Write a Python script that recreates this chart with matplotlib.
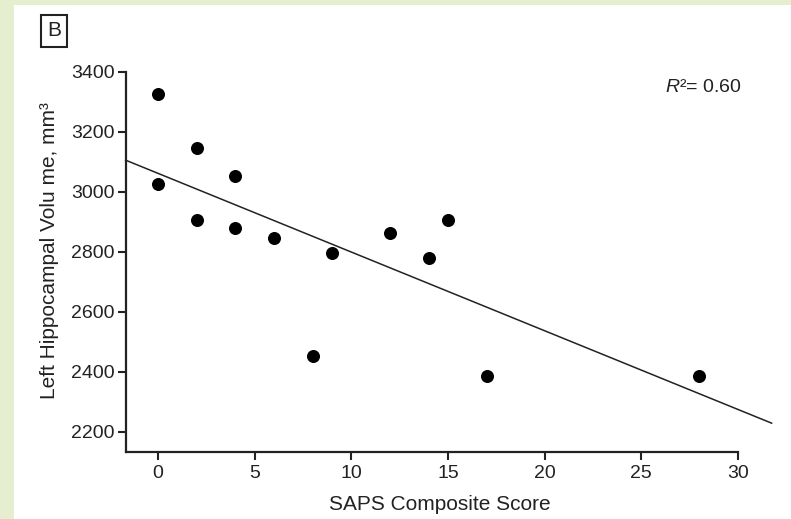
import matplotlib
matplotlib.use("Agg")
import matplotlib.pyplot as plt
from matplotlib.patches import Rectangle
import numpy as np

saps_score = [0, 0, 2, 2, 4, 4, 6, 8, 9, 12, 14, 15, 17, 28]
hippocampal_volume = [3327, 3025, 3147, 2906, 3053, 2878, 2847, 2453, 2795, 2861, 2779, 2906, 2386, 2386]
x_ticks = [0, 5, 10, 15, 20, 25, 30]
y_ticks = [2200, 2400, 2600, 2800, 3000, 3200, 3400]
fit_intercept = 3061
fit_slope = -26.24
fit_x_range = [-1.68, 31.74]

plt.rcParams['font.family'] = ['Liberation Sans', 'DejaVu Sans']
plt.rcParams['mathtext.fontset'] = 'custom'
plt.rcParams['mathtext.it'] = 'Liberation Sans:italic'
plt.rcParams['mathtext.rm'] = 'Liberation Sans'

fig = plt.figure(figsize=(7.91, 5.19), dpi=100)
fig.patch.set_facecolor('#e6eed0')
bg = Rectangle((14/791, 0), 1 - 14/791, 1 - 5/519, transform=fig.transFigure,
               facecolor='white', edgecolor='none', zorder=-10)
fig.patches.append(bg)

ax = fig.add_axes([125.6/791, 1 - 452/519, (738 - 125.6)/791, (452 - 71.7)/519])
ax.set_zorder(1)
ax.set_facecolor('none')
ax.set_xlim(-1.68, 30)
ax.set_ylim(2132, 3400)

ax.scatter(saps_score, hippocampal_volume, s=70, color='black', zorder=3, clip_on=False)
fx = np.array(fit_x_range)
ax.plot(fx, fit_intercept + fit_slope * fx, color='#222222', lw=1.1, clip_on=False)

ax.set_xticks(x_ticks)
ax.set_yticks(y_ticks)
for s in ['top', 'right']:
    ax.spines[s].set_visible(False)
for s in ['left', 'bottom']:
    ax.spines[s].set_linewidth(1.6)
    ax.spines[s].set_color('#222222')
ax.tick_params(direction='out', length=6, width=1.5, colors='#222222', labelsize=14, pad=3)
ax.tick_params(axis='y', pad=2)

ax.set_xlabel('SAPS Composite Score', fontsize=15, color='#222222')
ax.xaxis.set_label_coords((440 - 125.6) / (738 - 125.6), -(505 - 452) / (452 - 71.7))
ax.xaxis.label.set_va('center')
ax.set_ylabel('Left Hippocampal Volu me, mm³', fontsize=15, color='#222222')
ax.yaxis.set_label_coords(-(125.6 - 49) / (738 - 125.6), (452 - 251) / (452 - 71.7))
ax.yaxis.label.set_va('center')

ax.text(30.2, 3346, r'$R$²= 0.60', fontsize=14, ha='right', va='center', color='#222222')

fig.text(54/791, 1 - 31/519, 'B', fontsize=15, ha='center', va='center', color='#222222', zorder=5,
         bbox=dict(boxstyle='square,pad=0.3', facecolor='white', edgecolor='#222222', lw=1.5))

fig.savefig('out.png', dpi=100)
